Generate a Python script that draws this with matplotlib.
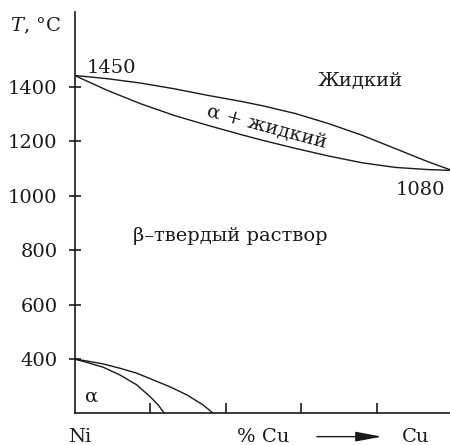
import numpy as np
import matplotlib
matplotlib.use("Agg")
import matplotlib.pyplot as plt

plt.rcParams['font.family'] = ['DejaVu Serif']
plt.rcParams['mathtext.fontset'] = 'dejavuserif'

# liquidus / solidus, % Cu vs T (C)
cu_pct = [0, 8.7, 17.5, 26.4, 35.2, 44.0, 50.0, 58.5, 67.3, 76.2, 85.0, 93.8, 100]
liquidus = [1442, 1430, 1414, 1393, 1369, 1347, 1330, 1302, 1265, 1222, 1173, 1124, 1093]
solidus = [1442, 1387, 1338, 1295, 1259, 1225, 1203, 1174, 1146, 1121, 1104, 1096, 1093]

# low temperature curves
low_outer_x = [0, 3.2, 7.6, 12.1, 16.5, 20.9, 25.3, 29.8, 34.1, 36.8]
low_outer_t = [400, 393, 382, 366, 348, 323, 298, 268, 231, 200]
low_inner_x = [0, 3.2, 7.6, 12.1, 16.5, 20.0, 22.2, 23.8]
low_inner_t = [400, 388, 370, 341, 305, 262, 231, 200]

yticks = [400, 600, 800, 1000, 1200, 1400]
xticks = [20, 40, 60, 80]

ink = '#1a1a1a'

fig = plt.figure(figsize=(4.5, 4.45), dpi=100)
ax = fig.add_axes([0.1656, 0.0708, 0.839, 0.9022])

ax.plot(cu_pct, liquidus, color=ink, lw=1.0)
ax.plot(cu_pct, solidus, color=ink, lw=1.0)
ax.plot(low_outer_x, low_outer_t, color=ink, lw=1.0)
ax.plot(low_inner_x, low_inner_t, color=ink, lw=1.0)

ax.set_xlim(0, 100)
ax.set_ylim(200, 1675)
for s in ['top', 'right']:
    ax.spines[s].set_visible(False)
for s in ['left', 'bottom']:
    ax.spines[s].set_linewidth(1.2)
    ax.spines[s].set_color(ink)

ax.set_yticks(yticks)
ax.set_yticklabels([str(v) for v in yticks])
ax.tick_params(axis='y', direction='inout', length=8.6, width=1.2, pad=8,
               labelsize=14, colors=ink)
ax.set_xticks(xticks)
ax.set_xticklabels([])
ax.tick_params(axis='x', direction='in', length=7, width=1.2, colors=ink)

fs = 14
ax.text(-17.1, 1604, r'$T$, °C', fontsize=fs, color=ink, ha='left', va='baseline', clip_on=False)
ax.text(3.3, 1451, '1450', fontsize=fs, color=ink, ha='left', va='baseline')
ax.text(75.6, 1405, 'Жидкий', fontsize=fs, color=ink, ha='center', va='baseline')
ax.text(51, 1251, 'α + жидкий', fontsize=fs, color=ink, ha='center', va='center',
        rotation=-15, rotation_mode='anchor')
ax.text(98.1, 1004, '1080', fontsize=fs, color=ink, ha='right', va='baseline')
ax.text(15.5, 833, 'β–твердый раствор', fontsize=fs, color=ink, ha='left', va='baseline')
ax.text(2.8, 243, 'α', fontsize=fs, color=ink, ha='left', va='baseline')

ax.text(-1.7, 97, 'Ni', fontsize=fs, color=ink, ha='left', va='baseline', clip_on=False)
ax.text(43, 97, '% Cu', fontsize=fs, color=ink, ha='left', va='baseline', clip_on=False)
ax.text(86.7, 97, 'Cu', fontsize=fs, color=ink, ha='left', va='baseline', clip_on=False)
ax.annotate('', xy=(81.4, 115), xytext=(64.2, 115), annotation_clip=False,
            arrowprops=dict(arrowstyle='-|>,head_length=1.6,head_width=0.3',
                            lw=1.0, color=ink, shrinkA=0, shrinkB=0))

fig.savefig('out.png', dpi=100)
